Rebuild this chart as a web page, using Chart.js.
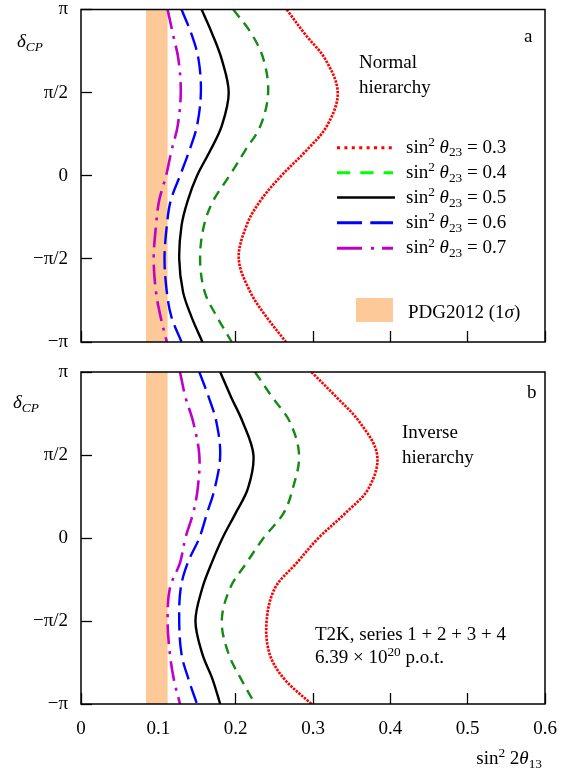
<!DOCTYPE html>
<html><head><meta charset="utf-8">
<script src="https://cdn.jsdelivr.net/npm/chart.js@4/dist/chart.umd.min.js"></script>
<style>
html,body{margin:0;padding:0;background:#fff;}
#wrap{position:relative;width:566px;height:769px;overflow:hidden;font-family:"Liberation Serif","Times New Roman",serif;color:#000;}
canvas{position:absolute;left:0;}
.t{position:absolute;font-size:19px;line-height:25px;white-space:nowrap;z-index:5;}
sup,sub{font-size:70%;line-height:0;position:relative;vertical-align:baseline;}
sup{top:-0.5em;} sub{top:0.3em;}
#leg{position:absolute;left:0;top:0;z-index:4;}
</style></head><body>
<div id="wrap">
<canvas id="cA" width="566" height="352" style="top:0"></canvas>
<canvas id="cB" width="566" height="409" style="top:360px"></canvas>
<svg id="leg" width="566" height="769"></svg>

<div class="t" style="left:17px;top:28px"><i>δ</i><sub><i>CP</i></sub></div>
<div class="t" style="left:524px;top:23px">a</div>
<div class="t" style="left:359px;top:49px">Normal<br>hierarchy</div>
<div class="t" id="legText" style="left:406px;top:133.5px;line-height:25.2px"></div>
<div class="t" style="left:408px;top:299px">PDG2012 (1<i>σ</i>)</div>

<div class="t" style="left:13px;top:389px"><i>δ</i><sub><i>CP</i></sub></div>
<div class="t" style="left:527px;top:379px">b</div>
<div class="t" style="left:402px;top:419px">Inverse<br>hierarchy</div>
<div class="t" style="left:315px;top:622px;line-height:23px">T2K, series 1 + 2 + 3 + 4<br>6.39 × 10<sup>20</sup> p.o.t.</div>
<div class="t" style="right:24px;top:745px">sin<sup>2</sup> 2<i>θ</i><sub>13</sub></div>
</div>
<script>
// ---- data (δCP in units of π) ----
const deltaPi = [1, 0.85, 0.7, 0.5, 0.3, 0.15, 0, -0.15, -0.3, -0.5, -0.7, -0.85, -1];
const theta23 = ['0.3', '0.4', '0.5', '0.6', '0.7'];

// panel a: normal hierarchy, sin^2 2θ13 for each sin^2 θ23
const normal03 = [0.266, 0.290, 0.316, 0.332, 0.318, 0.291, 0.259, 0.232, 0.214, 0.204, 0.219, 0.240, 0.265];
const normal04 = [0.197, 0.221, 0.236, 0.242, 0.232, 0.212, 0.192, 0.171, 0.159, 0.154, 0.160, 0.176, 0.195];
const normal05 = [0.156, 0.170, 0.182, 0.191, 0.182, 0.167, 0.150, 0.138, 0.130, 0.127, 0.132, 0.143, 0.157];
const normal06 = [0.130, 0.143, 0.152, 0.155, 0.150, 0.140, 0.128, 0.116, 0.111, 0.108, 0.111, 0.117, 0.130];
const normal07 = [0.112, 0.119, 0.126, 0.129, 0.125, 0.117, 0.110, 0.101, 0.097, 0.094, 0.097, 0.103, 0.111];

// panel b: inverse hierarchy
const inverse03 = [0.298, 0.330, 0.360, 0.383, 0.372, 0.342, 0.307, 0.279, 0.251, 0.240, 0.244, 0.263, 0.298];
const inverse04 = [0.225, 0.247, 0.270, 0.282, 0.274, 0.262, 0.236, 0.214, 0.193, 0.182, 0.191, 0.207, 0.225];
const inverse05 = [0.180, 0.194, 0.209, 0.223, 0.216, 0.200, 0.183, 0.169, 0.157, 0.148, 0.157, 0.170, 0.180];
const inverse06 = [0.153, 0.165, 0.175, 0.180, 0.173, 0.163, 0.153, 0.138, 0.129, 0.127, 0.130, 0.139, 0.150];
const inverse07 = [0.128, 0.135, 0.145, 0.153, 0.151, 0.145, 0.135, 0.128, 0.115, 0.112, 0.115, 0.120, 0.128];

// PDG2012 (1σ) band on sin^2 2θ13
const pdgBand = [0.084, 0.112];

// axis ticks
const xTickValues = [0, 0.1, 0.2, 0.3, 0.4, 0.5, 0.6];
const xTickLabels = ['0', '0.1', '0.2', '0.3', '0.4', '0.5', '0.6'];
const yTickValues = [-1, -0.5, 0, 0.5, 1];
const yTickLabels = ['−π', '−π/2', '0', 'π/2', 'π'];

// ---- styles ----
const FONT = 'Liberation Serif';
const bandColor = '#fdc999';
const curveStyles = [
  {color: '#ff0000', dash: [2.4, 1.2], legColor: '#ff0000', legDash: '3 4.4', w: 2.7},
  {color: '#138a13', dash: [10, 7],    legColor: '#00ff00', legDash: '13.3 10', w: 2.4},
  {color: '#000000', dash: [],         legColor: '#000000', legDash: '', w: 2.4},
  {color: '#0000ff', dash: [18, 7],    legColor: '#0000ff', legDash: '25 8.3', w: 2.4},
  {color: '#bf00c8', dash: [20, 7, 3, 7], legColor: '#bf00c8', legDash: '25 9 3 8', w: 2.6}
];

const framePlugin = {
  id: 'frame',
  afterDatasetsDraw(chart) {
    const {ctx, chartArea: {left, top, right, bottom}} = chart;
    ctx.save();
    ctx.strokeStyle = '#000';
    ctx.lineWidth = 1.5;
    ctx.strokeRect(left, top, right - left, bottom - top);
    ctx.restore();
  }
};

function makeChart(id, series, showXLabels, padTop, xAxisHeight) {
  const datasets = [{
    label: 'PDG2012 (1σ)',
    data: [{x: pdgBand[0], y: -1}, {x: pdgBand[0], y: 1}, {x: pdgBand[1], y: 1}, {x: pdgBand[1], y: -1}],
    showLine: true, fill: 'shape', backgroundColor: bandColor,
    borderColor: 'rgba(0,0,0,0)', borderWidth: 0, pointRadius: 0, tension: 0, order: 10
  }];
  series.forEach((vals, i) => {
    const s = curveStyles[i];
    datasets.push({
      label: 'sin² θ23 = ' + theta23[i],
      data: deltaPi.map((d, j) => ({x: vals[j], y: d})),
      showLine: true, fill: false, borderColor: s.color, borderDash: s.dash,
      borderWidth: s.w, pointRadius: 0, tension: 0.35, order: i, borderCapStyle: 'butt'
    });
  });
  const tickFont = {family: FONT, size: 19, lineHeight: 1};
  return new Chart(document.getElementById(id), {
    type: 'scatter',
    data: {datasets},
    options: {
      responsive: false, animation: false, devicePixelRatio: 1,
      layout: {padding: {top: padTop, left: 0, right: 21, bottom: 0}},
      plugins: {legend: {display: false}, tooltip: {enabled: false}},
      scales: {
        x: {
          type: 'linear', position: 'bottom', min: 0, max: 0.6,
          afterBuildTicks: s => { s.ticks = xTickValues.map(v => ({value: v})); },
          ticks: {display: showXLabels, autoSkip: false, maxRotation: 0, padding: 26.5,
                  font: tickFont, color: '#000', callback: (v, i) => xTickLabels[i]},
          grid: {drawOnChartArea: false, drawTicks: true, tickLength: -11, color: '#000', tickWidth: 1.3},
          border: {display: false},
          afterFit: s => { s.height = xAxisHeight; s.paddingLeft = 0; s.paddingRight = 0; }
        },
        y: {
          type: 'linear', position: 'left', min: -1, max: 1,
          afterBuildTicks: s => { s.ticks = yTickValues.map(v => ({value: v})); },
          ticks: {padding: 24, font: tickFont, color: '#000', callback: (v, i) => yTickLabels[i]},
          grid: {drawOnChartArea: false, drawTicks: true, tickLength: -11, color: '#000', tickWidth: 1.3},
          border: {display: false},
          afterFit: s => { s.width = 81; s.paddingTop = 0; s.paddingBottom = 0; }
        }
      }
    },
    plugins: [framePlugin]
  });
}

makeChart('cA', [normal03, normal04, normal05, normal06, normal07], false, 9.5, 10);
makeChart('cB', [inverse03, inverse04, inverse05, inverse06, inverse07], true, 12, 65);

// ---- legend (panel a) ----
const legRowsY = [147.7, 172.8, 197.6, 222.7, 248.2];
const svgNS = 'http://www.w3.org/2000/svg';
const svg = document.getElementById('leg');
curveStyles.forEach((s, i) => {
  const ln = document.createElementNS(svgNS, 'line');
  ln.setAttribute('x1', 337); ln.setAttribute('x2', i === 2 ? 395 : 393);
  ln.setAttribute('y1', legRowsY[i]); ln.setAttribute('y2', legRowsY[i]);
  ln.setAttribute('stroke', s.legColor); ln.setAttribute('stroke-width', i === 2 ? 2.5 : 3);
  if (s.legDash) ln.setAttribute('stroke-dasharray', s.legDash);
  svg.appendChild(ln);
});
const rect = document.createElementNS(svgNS, 'rect');
rect.setAttribute('x', 356); rect.setAttribute('y', 298);
rect.setAttribute('width', 37); rect.setAttribute('height', 24);
rect.setAttribute('fill', bandColor);
svg.appendChild(rect);
document.getElementById('legText').innerHTML = theta23
  .map(v => 'sin<sup>2</sup> <i>θ</i><sub>23</sub> = ' + v).join('<br>');
</script>
</body></html>
